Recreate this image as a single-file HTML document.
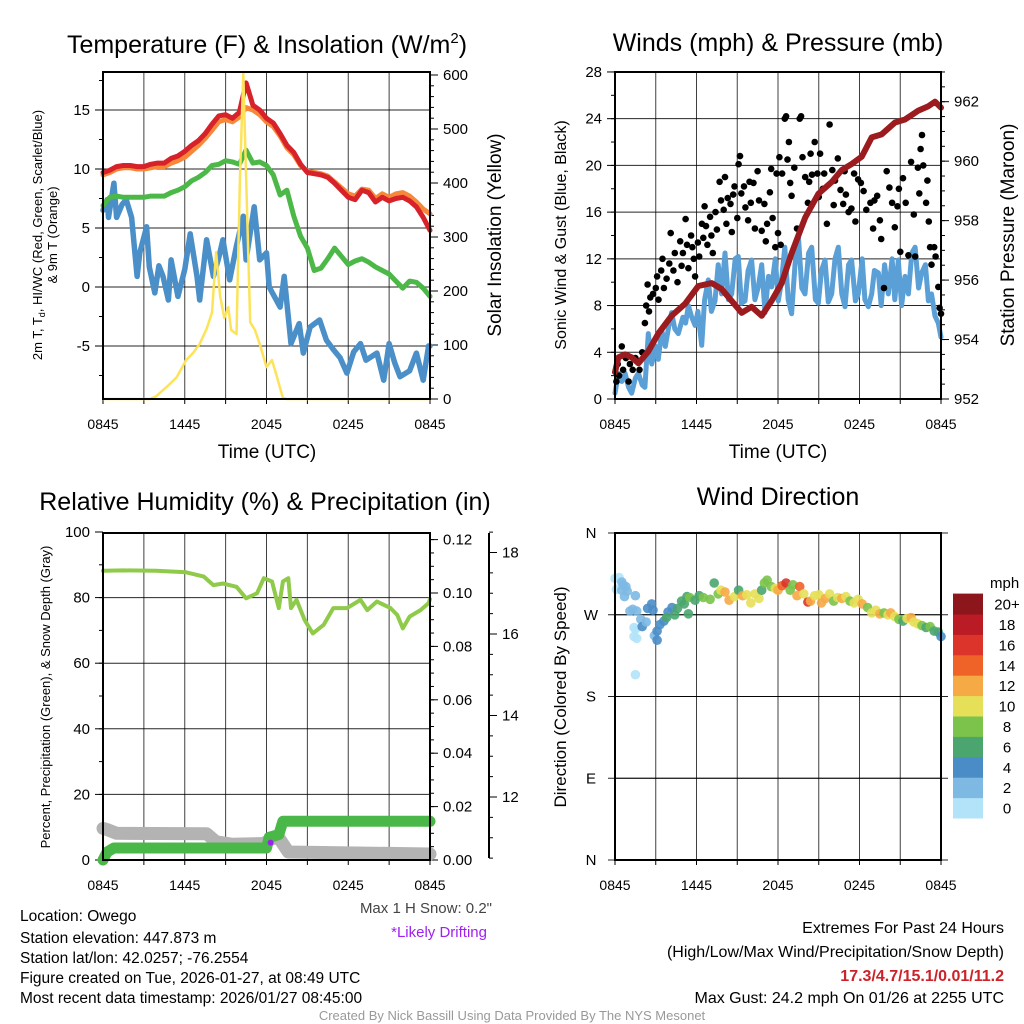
<!DOCTYPE html>
<html><head><meta charset="utf-8"><style>
html,body{margin:0;padding:0;background:#fff;}
svg{display:block;font-family:"Liberation Sans",Arial,sans-serif;}
</style></head><body>
<svg id="fig" width="1024" height="1024" viewBox="0 0 1024 1024" xmlns="http://www.w3.org/2000/svg">
<rect width="1024" height="1024" fill="#fff"/>
<g id="layer"></g>
<text x="267" y="53" font-size="25" text-anchor="middle">Temperature (F) &amp; Insolation (W/m<tspan font-size="15" dy="-10">2</tspan><tspan dy="10">)</tspan></text>
<text x="778" y="51" font-size="25" text-anchor="middle">Winds (mph) &amp; Pressure (mb)</text>
<text x="265" y="510" font-size="25" text-anchor="middle">Relative Humidity (%) &amp; Precipitation (in)</text>
<text x="778" y="505" font-size="25" text-anchor="middle">Wind Direction</text>
<text x="267" y="458" font-size="19" text-anchor="middle">Time (UTC)</text>
<text x="778" y="458" font-size="19" text-anchor="middle">Time (UTC)</text>
<text transform="translate(42,235) rotate(-90)" font-size="13" text-anchor="middle">2m T, T<tspan font-size="9" dy="3">d</tspan><tspan dy="-3">, HI/WC (Red, Green, Scarlet/Blue)</tspan></text>
<text transform="translate(57,235) rotate(-90)" font-size="13" text-anchor="middle">&amp; 9m T (Orange)</text>
<text transform="translate(501,235) rotate(-90)" font-size="19" text-anchor="middle">Solar Insolation (Yellow)</text>
<text transform="translate(566,235) rotate(-90)" font-size="16" text-anchor="middle">Sonic Wind &amp; Gust (Blue, Black)</text>
<text transform="translate(1014,235) rotate(-90)" font-size="19" text-anchor="middle">Station Pressure (Maroon)</text>
<text transform="translate(50,697) rotate(-90)" font-size="13" text-anchor="middle">Percent, Precipitation (Green), &amp; Snow Depth (Gray)</text>
<text transform="translate(566,697) rotate(-90)" font-size="17" text-anchor="middle">Direction (Colored By Speed)</text>
<text x="990" y="588" font-size="15">mph</text>
<text x="492" y="913" font-size="15" fill="#444" text-anchor="end">Max 1 H Snow: 0.2"</text>
<text x="487" y="937" font-size="15" fill="#a020f0" text-anchor="end">*Likely Drifting</text>
<g font-size="15.5">
<text x="20" y="921">Location: Owego</text>
<text x="20" y="943">Station elevation: 447.873 m</text>
<text x="20" y="963">Station lat/lon: 42.0257; -76.2554</text>
<text x="20" y="983">Figure created on Tue, 2026-01-27, at 08:49 UTC</text>
<text x="20" y="1003">Most recent data timestamp: 2026/01/27 08:45:00</text>
</g>
<g font-size="16" text-anchor="end">
<text x="1004" y="933">Extremes For Past 24 Hours</text>
<text x="1004" y="957">(High/Low/Max Wind/Precipitation/Snow Depth)</text>
<text x="1004" y="981" fill="#cc2229" font-weight="bold">17.3/4.7/15.1/0.01/11.2</text>
<text x="1004" y="1003">Max Gust: 24.2 mph On 01/26 at 2255 UTC</text>
</g>
<text x="512" y="1020" font-size="13" fill="#999" text-anchor="middle">Created By Nick Bassill Using Data Provided By The NYS Mesonet</text>
</svg>
<script>
// ---------- data ----------
const xTickLabels = ["0845","1445","2045","0245","0845"];
const redT = [0,0.5,1,1.5,2,2.5,3,3.5,4,4.5,5,5.5,6,6.5,7,7.5,8,8.5,9,9.5,10,10.5,11,11.5,12,12.5,13,13.5,14,14.5,15,15.5,16,16.5,17,17.5,18,18.5,19,19.5,20,20.5,21,21.5,22,22.5,23,23.5,24];
const redV = [9.7,9.9,10.2,10.3,10.3,10.2,10.2,10.4,10.5,10.5,10.9,11.1,11.5,12.0,12.4,13.0,13.8,14.5,14.6,14.3,14.8,17.3,15.4,15.0,14.3,13.9,13.0,12.0,11.4,10.4,9.7,9.6,9.5,9.3,8.8,8.2,7.6,7.4,8.2,8.0,7.2,7.6,7.3,7.5,7.6,7.3,6.8,5.9,4.8];
const orangeV = [9.5,9.7,10.0,10.1,10.1,10.0,10.0,10.1,10.2,10.2,10.5,10.7,11.0,11.5,12.0,12.6,13.3,14.0,14.2,14.0,14.4,15.2,15.0,14.6,14.0,13.6,12.8,11.8,11.2,10.3,9.8,9.7,9.6,9.4,8.9,8.4,7.9,7.7,8.3,8.2,7.5,7.9,7.6,7.9,8.0,7.7,7.2,6.6,6.2];
const greenV = [6.9,7.6,7.7,7.6,7.6,7.6,7.6,7.7,7.7,7.7,8.0,8.2,8.5,9.0,9.3,9.7,10.3,10.4,10.7,10.6,10.4,11.6,10.5,10.6,10.3,9.5,7.8,8.2,6.0,4.3,3.3,1.4,1.6,2.4,3.3,2.6,1.9,2.2,2.4,2.1,1.7,1.4,1.1,0.5,-0.1,0.5,0.4,-0.1,-0.8];
const blueT = [0,0.3,0.4,0.8,1.0,1.4,1.7,2.1,2.5,2.7,3.2,3.4,3.8,4.1,4.4,4.8,5.0,5.5,6.0,6.4,6.9,7.1,7.6,8.1,8.5,8.8,9.3,9.8,10.3,10.5,11.1,11.5,12.0,12.2,13.0,13.3,13.8,14.4,14.7,15.2,15.9,16.4,16.9,17.4,17.9,18.4,18.9,19.3,20.1,20.6,21.0,21.4,21.8,22.5,23.0,23.5,23.9,24];
const blueV = [6.5,7.4,5.9,8.8,5.9,7.0,7.4,5.9,0.9,2.9,5.1,1.7,-0.5,1.8,0.9,-1.1,2.3,-0.8,1.5,4.5,0.9,-1.1,4.0,0.9,2.5,4.0,0.6,3.5,6.0,2.3,6.8,2.3,2.9,0.0,-1.7,0.9,-4.8,-3.1,-5.6,-3.4,-2.8,-4.5,-5.3,-6.0,-7.3,-5.5,-4.8,-6.2,-5.6,-7.9,-4.8,-6.4,-7.6,-7.1,-5.6,-7.9,-5.0,-5.0];
const solarT = [0,3.45,3.9,4.7,5.4,6.1,6.6,7.1,7.6,8.0,8.3,8.6,8.9,9.2,9.4,9.8,10.05,10.3,10.5,10.8,11.15,11.5,12.0,12.4,12.7,13.2,13.5,24];
const solarV = [0,0,5,23,40,72,85,102,130,160,272,190,150,170,128,120,405,603,411,142,128,102,59,72,47,2,0,0];

const presT = [0,0.25,0.74,1.23,1.72,2.45,3.19,4.17,5.15,6.13,7.12,7.85,8.59,9.33,10.06,10.8,11.53,12.27,13.0,14.0,14.97,15.95,16.69,17.42,18.16,18.9,19.63,20.61,21.35,22.33,23.07,23.56,24];
const presV = [952.9,953.4,953.5,953.4,953.2,953.6,954.2,954.8,955.2,955.8,955.9,955.7,955.3,954.9,955.1,954.8,955.3,955.9,956.9,958.1,958.9,959.3,959.7,959.9,960.15,960.8,960.9,961.3,961.4,961.7,961.85,962.0,961.8];
const windT = [0,0.25,0.5,0.74,1.0,1.23,1.5,1.72,2.0,2.2,2.45,2.7,3.0,3.19,3.44,3.7,4.0,4.17,4.4,4.66,5.0,5.2,5.4,5.65,5.9,6.1,6.38,6.6,6.87,7.1,7.36,7.6,7.85,8.1,8.35,8.59,8.85,9.08,9.3,9.57,9.8,10.06,10.3,10.55,10.8,11.04,11.3,11.53,11.8,12.02,12.25,12.5,12.75,13.0,13.25,13.5,13.75,13.99,14.25,14.48,14.75,14.97,15.2,15.46,15.7,15.95,16.2,16.44,16.7,16.93,17.2,17.42,17.7,17.91,18.2,18.4,18.65,18.9,19.1,19.39,19.6,19.85,20.12,20.4,20.6,20.86,21.1,21.35,21.6,21.85,22.09,22.35,22.58,22.85,23.07,23.3,23.56,23.8,24];
const windV = [0.5,2.2,1.5,2.2,1.0,0.5,1.8,2.2,1.2,1.0,5.6,3.0,4.5,3.4,5.9,4.5,6.5,7.4,6.0,5.6,7.0,6.5,8.0,7.0,6.3,7.5,4.6,8.5,10.2,7.5,8.4,11.5,9.0,12.5,8.5,9.0,12.0,12.2,8.2,8.4,11.0,11.9,8.5,9.6,11.5,7.4,10.5,9.6,12.0,8.4,10.0,13.0,8.5,7.3,11.5,13.9,9.5,9.0,12.5,13.0,8.5,8.2,11.0,11.9,8.3,9.0,12.0,13.0,9.0,7.9,11.5,11.9,8.4,9.0,12.0,8.5,7.9,9.0,11.0,10.8,8.0,11.5,9.0,12.0,8.5,11.9,8.0,10.5,9.0,12.5,13.0,9.5,10.8,11.5,8.4,9.0,7.1,6.5,5.3];
const gustT = [0.1,0.2,0.3,0.5,0.6,0.8,1.0,1.1,1.3,1.5,1.8,2.0,2.2,2.3,2.4,2.5,2.6,2.8,3.0,3.1,3.2,3.4,3.5,3.6,3.8,4.0,4.1,4.3,4.4,4.6,4.8,4.9,5.0,5.2,5.3,5.4,5.6,5.7,5.8,5.9,6.1,6.2,6.4,6.5,6.6,6.7,6.8,7.0,7.1,7.2,7.4,7.5,7.7,7.8,8.0,8.1,8.2,8.3,8.5,8.6,8.7,8.8,9.0,9.1,9.2,9.3,9.5,9.6,9.8,9.9,10.0,10.2,10.3,10.5,10.6,10.8,11.0,11.1,11.2,11.4,11.5,11.6,11.8,11.9,12.0,12.1,12.2,12.3,12.5,12.6,12.7,12.8,12.9,13.0,13.2,13.4,13.6,13.7,13.8,14.0,14.2,14.3,14.4,14.5,14.7,14.9,15.0,15.1,15.3,15.4,15.6,15.8,16.0,16.1,16.2,16.4,16.6,16.8,16.9,17.0,17.2,17.4,17.6,17.7,17.9,18.1,18.3,18.5,18.8,19.0,19.1,19.3,19.5,19.6,19.8,20.0,20.2,20.4,20.6,20.8,20.9,21.0,21.2,21.4,21.6,21.8,22.0,22.1,22.3,22.4,22.5,22.6,22.7,22.9,23.0,23.1,23.2,23.3,23.5,23.6,23.8,23.9,24.0];
const gustV = [1.5,3,2,4.5,2.5,3.5,1.5,3,2.5,3.5,2.5,4,6.5,8,9.8,7.5,8.7,9,9.5,10.5,8.5,11,12,9.5,10.3,11.6,14.2,11,12.5,10,13.5,11.4,12.5,15.4,13.2,11.2,14,13,12,10.5,13.4,12.2,15,13.8,16.5,14.8,13.2,15.6,14,12.5,16,14.5,18.6,17,16.2,19,15,17.2,16.7,14.3,17.5,18.2,15.5,20.1,20.8,17.6,18.2,16.4,15.3,18.6,16.8,18.5,14.6,19.5,17,14.4,16.7,13.5,15,17.7,19.7,15.5,13,19.3,14.2,20.7,13.2,19.3,24,24.2,20.5,22,18.5,17.4,19.8,14.6,24,24.2,20.7,19,16.8,18.6,21,19.2,22,19.3,17.3,21,18,19.3,15,23.5,19.6,16.6,18.7,20.6,17.9,16.7,19.5,17.5,16,16.3,19.3,15.2,18.8,18.5,17.8,16.2,16.8,14.6,17,17.4,15.3,13.7,9.5,19.5,18.1,16.8,14.7,16.5,18,12.6,18.9,16.8,12.3,20.3,15.8,12.2,19.8,17.6,21.4,22.6,20,16.8,18.7,15.2,13,11.5,13,12.2,9.6,7.8,7.3];

const rhT = [0,1.5,3.9,6.1,7.4,8.1,8.8,9.8,10.5,11.3,11.8,12.4,12.9,13.2,13.6,13.8,14.2,14.8,15.4,16.2,16.9,17.9,18.9,19.4,20.1,21.1,21.6,22.0,22.5,23.3,23.9,24];
const rhV = [88.2,88.3,88.2,87.7,86.4,83.8,84.3,83.3,79.8,81.3,85.9,84.9,76.8,84.9,85.9,76.8,79.3,73.2,69.1,71.7,76.8,76.8,79.3,76.2,78.8,76.8,74.7,70.6,74.2,76.2,78.3,79.5];
const precipT = [0,0.3,0.8,12.0,12.2,12.9,13.2,24];
const precipV = [0,0.003,0.0045,0.0045,0.0085,0.0095,0.0145,0.0145];
const snowT = [0,0.3,1.0,7.6,8.3,9.5,11.8,12.4,12.9,13.6,24];
const snowV = [11.23,11.2,11.11,11.1,10.9,10.84,10.86,10.98,11.0,10.65,10.6];

const dirT = [0.0,0.1,0.3,0.5,0.5,0.6,0.7,0.8,0.9,1.1,1.3,1.5,1.6,1.4,1.5,1.4,1.6,1.5,1.9,2.0,2.3,2.4,2.7,2.8,2.9,3.1,3.3,3.1,3.6,3.9,3.8,4.2,4.4,4.6,4.9,5.1,5.3,5.5,5.4,5.9,6.2,6.5,7.0,7.3,7.6,7.8,8.1,8.4,8.8,9.1,9.4,9.7,10.0,10.3,10.6,10.8,11.0,11.2,11.5,11.8,12.0,12.3,12.6,12.9,13.1,13.4,13.6,13.9,14.2,14.4,14.7,15.0,15.2,15.5,15.8,16.1,16.4,16.7,17.0,17.3,17.6,17.9,18.2,18.6,18.9,19.2,19.5,19.8,20.1,20.3,20.6,20.9,21.2,21.5,21.8,22.0,22.3,22.6,22.9,23.2,23.5,23.8,24.0];
const dirD = [310,298,311,306,297,303,290,301,296,274,276,291,274,256,254,246,244,204,265,257,262,277,282,275,247,252,259,242,263,273,267,278,270,277,285,282,290,289,271,286,291,289,287,305,293,297,295,286,290,297,291,292,283,293,288,297,305,308,301,299,297,302,305,297,303,291,301,293,284,285,291,292,283,288,293,285,289,288,290,285,283,287,282,278,272,275,271,272,270,272,268,265,263,266,267,262,260,258,256,257,252,251,246];
const dirS = [1,1,1,2,2,2,2,2,2,2,2,2,2,1,1,1,1,1,3,5,3,4,4,4,3,4,5,4,5,5,6,5,6,6,6,7,6,8,6,6,6,9,9,6,8,10,12,12,10,7,12,11,10,10,10,6,8,8,8,10,12,14,16,9,8,12,14,10,16,12,10,10,12,12,10,8,10,12,10,8,10,10,12,8,10,10,12,8,10,12,10,8,6,10,12,10,10,8,6,8,6,6,4];

const cbLabels = ["0","2","4","6","8","10","12","14","16","18","20+"];
const cbColors = ["#b3e3f8","#7db9e3","#4a8dc6","#4aa56f","#7bc34b","#e6e058","#f6aa45","#ef6329","#dc342a","#ba1b24","#8c161b"];

// ---------- helpers ----------
const NS = "http://www.w3.org/2000/svg";
const layer = document.getElementById("layer");
function mk(tag, attrs, parent){
  const el = document.createElementNS(NS, tag);
  for (const k in attrs) el.setAttribute(k, attrs[k]);
  (parent||layer).appendChild(el);
  return el;
}
function grp(name){
  const g = mk("g", {});
  
  
  return g;
}
function txt(g, x, y, s, anchor, size){
  const t = mk("text", {x:x, y:y, "text-anchor":anchor, "font-size":size||14}, g);
  t.textContent = s;
  return t;
}
function pathFrom(T, V, xf, yf){
  let d = "";
  for (let i=0;i<T.length;i++) d += (i?"L":"M") + xf(T[i]).toFixed(1) + "," + yf(V[i]).toFixed(1);
  return d;
}
function frame(name, L, R, T, B, xf, hLines){
  const g = grp(name + "-frame");
  for (let h=3; h<24; h+=3) mk("line",{x1:xf(h),x2:xf(h),y1:T,y2:B,stroke:"#000","stroke-width":1,"stroke-opacity":0.75},g);
  hLines.forEach(y=>mk("line",{x1:L,x2:R,y1:y,y2:y,stroke:"#000","stroke-width":1,"stroke-opacity":0.85},g));
  for (let h=0; h<=24; h+=3) mk("line",{x1:xf(h),x2:xf(h),y1:B,y2:B+5,stroke:"#000","stroke-width":1},g);
  xTickLabels.forEach((s,i)=>txt(g, xf(i*6), B+30, s, "middle", 14));
  return g;
}
function border(L,R,T,B,name){
  const r = mk("rect",{x:L,y:T,width:R-L,height:B-T,fill:"none",stroke:"#000","stroke-width":2});
  
  
}
function yAxis(name, x, side, yf, majors, labels, minors, T, B){
  const g = grp(name);
  const dir = side==="left" ? -1 : 1;
  mk("line",{x1:x,x2:x,y1:T,y2:B,stroke:"#000","stroke-width":2},g);
  minors.forEach(v=>{const y=yf(v); if(y>=T-1&&y<=B+1) mk("line",{x1:x,x2:x+dir*4,y1:y,y2:y,stroke:"#000","stroke-width":1},g);});
  majors.forEach((v,i)=>{const y=yf(v);
    mk("line",{x1:x,x2:x+dir*8,y1:y,y2:y,stroke:"#000","stroke-width":1},g);
    txt(g, x+dir*13, y+5, labels[i], side==="left"?"end":"start", 15);
  });
  return g;
}
function range(a,b,s){const r=[];for(let v=a;v<=b+1e-9;v+=s)r.push(+v.toFixed(4));return r;}

// ---------- Panel 1 ----------
const p1x = t => 103 + t*327/24;
const p1y = v => 287 - v*11.8;
const p1s = w => 399 - w*0.54;
frame("temp", 103, 430, 72, 399, p1x, [15,10,5,0,-5].map(p1y));
yAxis("temp-left-axis", 103, "left", p1y, [15,10,5,0,-5], ["15","10","5","0","-5"], range(-7.5,17.5,2.5), 72, 399);
yAxis("insolation-right-axis", 430, "right", p1s, [0,100,200,300,400,500,600], ["0","100","200","300","400","500","600"], range(0,620,20), 72, 399);
let e;
e = mk("path",{d:pathFrom(blueT,blueV,p1x,p1y),fill:"none",stroke:"#4a8fc8","stroke-width":5.5,"stroke-linejoin":"round","stroke-linecap":"round"});


e = mk("path",{d:pathFrom(redT,greenV,p1x,p1y),fill:"none",stroke:"#4cb848","stroke-width":5,"stroke-linejoin":"round","stroke-linecap":"round"});


e = mk("path",{d:pathFrom(redT,orangeV,p1x,p1y),fill:"none",stroke:"#f7883a","stroke-width":5,"stroke-linejoin":"round","stroke-linecap":"round"});


e = mk("path",{d:pathFrom(redT,redV,p1x,p1y),fill:"none",stroke:"#d7222a","stroke-width":5,"stroke-linejoin":"round","stroke-linecap":"round"});


e = mk("path",{d:pathFrom(solarT,solarV,p1x,p1s),fill:"none",stroke:"#fde35a","stroke-width":2.5,"stroke-linejoin":"round"});


border(103,430,72,399,"temp-plot-border");

// ---------- Panel 2 ----------
const p2x = t => 615 + t*326/24;
const p2y = v => 399 - v*11.68;
const p2p = p => 399 - (p-952)*29.73;
frame("wind", 615, 941, 72, 399, p2x, [4,8,12,16,20,24].map(p2y));
yAxis("wind-left-axis", 615, "left", p2y, [0,4,8,12,16,20,24,28], ["0","4","8","12","16","20","24","28"], range(0,28,2), 72, 399);
yAxis("pressure-right-axis", 941, "right", p2p, [952,954,956,958,960,962], ["952","954","956","958","960","962"], range(952,963,0.5), 72, 399);
e = mk("path",{d:pathFrom(windT,windV,p2x,p2y),fill:"none",stroke:"#5a9fd6","stroke-width":5,"stroke-linejoin":"round","stroke-linecap":"round"});


const gustG = grp("gust-points");
for (let i=0;i<gustT.length;i++){
  const c = mk("circle",{cx:p2x(gustT[i]).toFixed(1),cy:p2y(gustV[i]).toFixed(1),r:3.3,fill:"#000"},gustG);
  
  
}
e = mk("path",{d:pathFrom(presT,presV,p2x,p2p),fill:"none",stroke:"#9b1b1e","stroke-width":6,"stroke-linejoin":"round","stroke-linecap":"round"});


border(615,941,72,399,"wind-plot-border");

// ---------- Panel 3 ----------
const p3x = p1x;
const p3y = v => 860 - v*3.28;
const p3p = p => 860 - p*2670;
const p3s = s => 797 - (s-12)*40.75;
frame("rh", 103, 430, 533, 860, p3x, [20,40,60,80].map(p3y));
yAxis("rh-left-axis", 103, "left", p3y, [0,20,40,60,80,100], ["0","20","40","60","80","100"], range(0,100,10), 533, 860);
yAxis("precip-right-axis", 430, "right", p3p, [0,0.02,0.04,0.06,0.08,0.10,0.12], ["0.00","0.02","0.04","0.06","0.08","0.10","0.12"], range(0,0.12,0.005), 533, 860);
yAxis("snow-right-axis", 489, "right", p3s, [12,14,16,18], ["12","14","16","18"], range(10.5,18.5,0.5), 533, 858);
e = mk("path",{d:pathFrom(snowT,snowV,p3x,p3s),fill:"none",stroke:"#b3b3b3","stroke-width":13,"stroke-linejoin":"round","stroke-linecap":"round"});


e = mk("path",{d:pathFrom(precipT,precipV,p3x,p3p),fill:"none",stroke:"#4ab848","stroke-width":11,"stroke-linejoin":"round","stroke-linecap":"round"});


e = mk("circle",{cx:p3x(12.3),cy:p3p(0.0065),r:3,fill:"#a020f0"});


e = mk("path",{d:pathFrom(rhT,rhV,p3x,p3y),fill:"none",stroke:"#8fca4a","stroke-width":4,"stroke-linejoin":"round","stroke-linecap":"round"});


border(103,430,533,860,"rh-plot-border");

// ---------- Panel 4 ----------
const p4x = p2x;
const p4y = d => 860 - d*327/360;
frame("dir", 615, 941, 533, 860, p4x, [90,180,270].map(p4y));
const dg = grp("dir-left-axis");
[0,90,180,270,360].forEach((d,i)=>{
  mk("line",{x1:608,x2:948,y1:p4y(d),y2:p4y(d),stroke:"#000","stroke-width":1,"stroke-opacity":0.85},dg);
  txt(dg, 591, p4y(d)+5, ["N","E","S","W","N"][i], "middle", 15);
});
const dirG = grp("dir-points");
for (let i=0;i<dirT.length;i++){
  const bin = Math.min(10, Math.floor(dirS[i]/2));
  const c = mk("circle",{cx:p4x(dirT[i]).toFixed(1),cy:p4y(dirD[i]).toFixed(1),r:4.8,fill:cbColors[bin],"fill-opacity":0.9},dirG);
  
  
}
border(615,941,533,860,"dir-plot-border");
const cbG = grp("speed-colorbar");
for (let i=0;i<cbColors.length;i++){
  const yTop = 818 - (i+1)*20.4;
  const r = mk("rect",{x:953,y:yTop.toFixed(1),width:30,height:20.9,fill:cbColors[i]},cbG);
  
  
  txt(cbG, 1007, yTop+16, cbLabels[i], "middle", 15);
}
</script>
</body></html>
